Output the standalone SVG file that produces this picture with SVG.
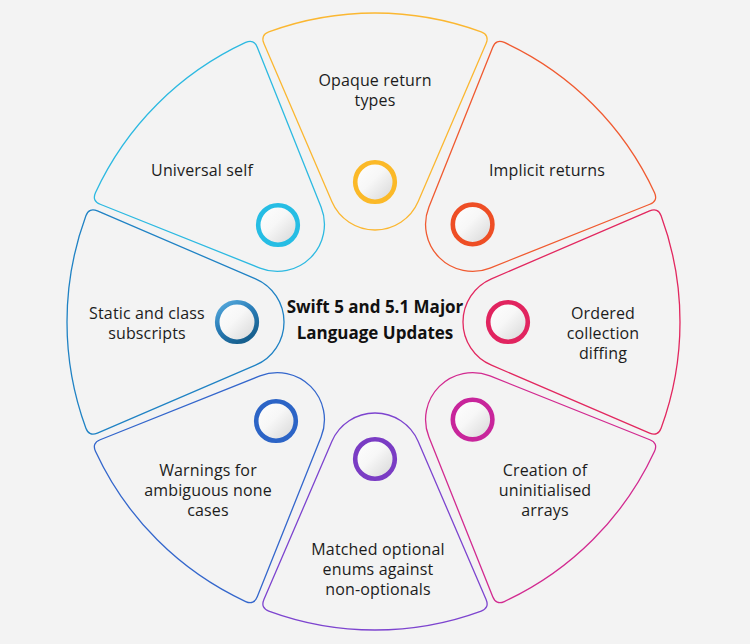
<svg xmlns="http://www.w3.org/2000/svg" xmlns:xlink="http://www.w3.org/1999/xlink" width="750" height="644" viewBox="0 0 750 644">
<style>
.petal{fill:none;stroke-width:1.3}
.lbl{font-family:"Open Sans","Noto Sans",sans-serif;font-size:16px;letter-spacing:0.15px;fill:#1c1c1c;text-anchor:middle}
.ttl{font-family:"Open Sans","Noto Sans",sans-serif;font-size:17px;font-weight:bold;fill:#111;text-anchor:middle}
.ring{stroke-width:4.6;fill:url(#knob)}
</style>
<defs>
<path id="petal" d="M119.45,43.19 L277.60,111.08 Q285.87,114.63 289.10,106.23 A308,308 0 0 0 289.10,-106.23 Q285.87,-114.63 277.60,-111.08 L119.45,-43.19 A47,47 0 0 0 119.45,43.19 Z"/>
<linearGradient id="knob" x1="0" y1="0" x2="1" y2="1">
<stop offset="0" stop-color="#ffffff"/>
<stop offset="0.45" stop-color="#f7f7f7"/>
<stop offset="1" stop-color="#d4d4d4"/>
</linearGradient>
<linearGradient id="steel" x1="0" y1="0" x2="0.6" y2="1">
<stop offset="0" stop-color="#5aaee0"/>
<stop offset="0.5" stop-color="#2a7db8"/>
<stop offset="1" stop-color="#17608f"/>
</linearGradient>
</defs>
<rect width="750" height="644" fill="#f3f3f3"/>
<g id="node-opaque">
<use xlink:href="#petal" class="petal" stroke="#fbb731" transform="translate(375 321) rotate(-90)"/>
<circle class="ring" cx="375" cy="182" r="19.8" stroke="#fbb928"/>
<text class="lbl" x="375" y="86">Opaque return</text>
<text class="lbl" x="375" y="106">types</text>
</g>
<g id="node-implicit">
<use xlink:href="#petal" class="petal" stroke="#f05a30" transform="translate(375 322) rotate(-45)"/>
<circle class="ring" cx="472.6" cy="224.4" r="19.8" stroke="#ee4e25"/>
<text class="lbl" x="547" y="176">Implicit returns</text>
</g>
<g id="node-ordered">
<use xlink:href="#petal" class="petal" stroke="#e2275f" transform="translate(372 322) rotate(0)"/>
<circle class="ring" cx="508" cy="322" r="19.8" stroke="#e1245f"/>
<text class="lbl" x="603" y="319">Ordered</text>
<text class="lbl" x="603" y="339">collection</text>
<text class="lbl" x="603" y="359">diffing</text>
</g>
<g id="node-creation">
<use xlink:href="#petal" class="petal" stroke="#d22a90" transform="translate(375 322) rotate(45)"/>
<circle class="ring" cx="472.6" cy="419.6" r="19.8" stroke="#c8259b"/>
<text class="lbl" x="545" y="476">Creation of</text>
<text class="lbl" x="545" y="496">uninitialised</text>
<text class="lbl" x="545" y="516">arrays</text>
</g>
<g id="node-matched">
<use xlink:href="#petal" class="petal" stroke="#7d44cf" transform="translate(375 322) rotate(90)"/>
<circle class="ring" cx="375" cy="459" r="19.8" stroke="#7a3cc4"/>
<text class="lbl" x="378" y="555">Matched optional</text>
<text class="lbl" x="378" y="575">enums against</text>
<text class="lbl" x="378" y="595">non-optionals</text>
</g>
<g id="node-warnings">
<use xlink:href="#petal" class="petal" stroke="#3366cc" transform="translate(375 322) rotate(135)"/>
<circle class="ring" cx="276" cy="421" r="19.8" stroke="#2c64c6"/>
<text class="lbl" x="208" y="476">Warnings for</text>
<text class="lbl" x="208" y="496">ambiguous none</text>
<text class="lbl" x="208" y="516">cases</text>
</g>
<g id="node-static">
<use xlink:href="#petal" class="petal" stroke="#1f82c4" transform="translate(375 322) rotate(180)"/>
<circle class="ring" cx="237" cy="322" r="19.8" stroke="url(#steel)"/>
<text class="lbl" x="147" y="319">Static and class</text>
<text class="lbl" x="147" y="339">subscripts</text>
</g>
<g id="node-universal">
<use xlink:href="#petal" class="petal" stroke="#2cb9e1" transform="translate(375 322) rotate(-135)"/>
<circle class="ring" cx="278" cy="225" r="19.8" stroke="#26bde4"/>
<text class="lbl" x="202" y="176">Universal self</text>
</g>
<g id="title">
<text class="ttl" x="375" y="313">Swift 5 and 5.1 Major</text>
<text class="ttl" x="375" y="339">Language Updates</text>
</g>
<g id="connectors"/>
</svg>
